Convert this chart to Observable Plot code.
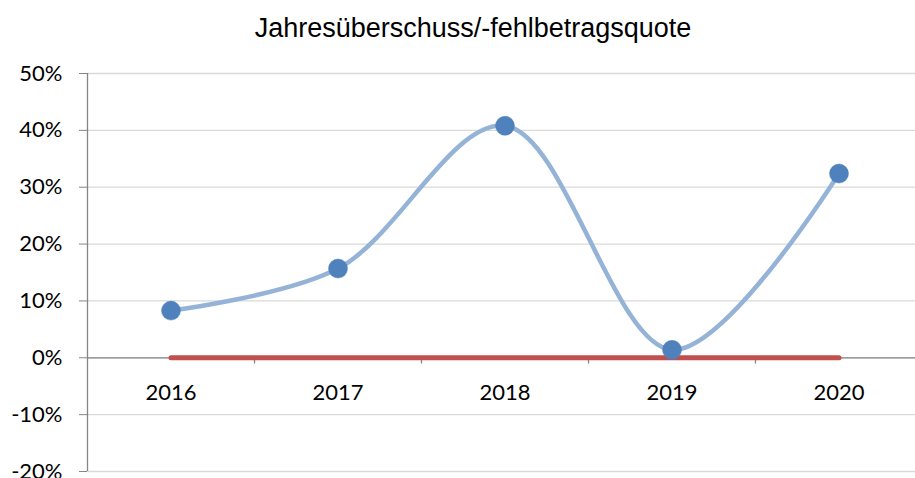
<!DOCTYPE html>
<html>
<head>
<meta charset="utf-8">
<script src="https://cdn.jsdelivr.net/npm/d3@7"></script>
<script src="https://cdn.jsdelivr.net/npm/@observablehq/plot@0.6"></script>
<style>
  html, body { margin: 0; padding: 0; background: #fff; }
  #chart svg { display: block; }
</style>
</head>
<body>
<div id="chart"></div>
<script>
const title = "Jahresüberschuss/-fehlbetragsquote";
const years = [2016, 2017, 2018, 2019, 2020];
const quote = [0.083, 0.157, 0.408, 0.014, 0.324];
const zeroLine = [0, 0, 0, 0, 0];
const yTicks = [-0.2, -0.1, 0, 0.1, 0.2, 0.3, 0.4, 0.5];
const boundaries = [2016.5, 2017.5, 2018.5, 2019.5];

const quoteData = years.map((y, i) => ({year: y, value: quote[i]}));
const zeroData = years.map((y, i) => ({year: y, value: zeroLine[i]}));

const titleFont = "'Liberation Sans', Arial, sans-serif";
const tickFont = "Lato, 'Liberation Sans', sans-serif";

const chart = Plot.plot({
  width: 915,
  height: 478,
  marginLeft: 87,
  marginRight: -7,
  marginTop: 73,
  marginBottom: 7,
  style: {fontFamily: tickFont, fontSize: "22px", color: "#000", background: "#fff", overflow: "visible"},
  x: {type: "linear", domain: [2015.5, 2020.5], axis: null},
  y: {domain: [-0.2, 0.5], axis: null},
  marks: [
    Plot.gridY(yTicks, {stroke: "#d9d9d9", strokeOpacity: 1, strokeWidth: 1.3}),
    Plot.axisY(yTicks, {
      label: null,
      tickFormat: d => Math.round(d * 100) + "%",
      tickSize: 8, tickPadding: 17, stroke: "#868686", fontSize: 22, fill: "#000",
      fontFamily: tickFont
    }),
    Plot.ruleX([2015.5], {stroke: "#868686", strokeWidth: 1.3}),
    Plot.ruleY([0], {stroke: "#868686", strokeWidth: 1.3}),
    Plot.ruleX(boundaries, {y1: 0, y2: -0.011, stroke: "#868686", strokeWidth: 1.3}),
    Plot.text(years, {x: d => d, y: 0, dy: 35, text: d => String(d), fontSize: 22, fill: "#000", fontFamily: tickFont}),
    Plot.line(zeroData, {x: "year", y: "value", stroke: "#c0504d", strokeWidth: 5, strokeLinecap: "round"}),
    Plot.line(quoteData, {x: "year", y: "value", stroke: "#95b3d7", strokeWidth: 4.5, curve: "catmull-rom"}),
    Plot.dot(quoteData, {x: "year", y: "value", r: 9.5, fill: "#4f81bd", stroke: "#4f81bd", strokeWidth: 0.5}),
    Plot.text([title], {frameAnchor: "top", lineAnchor: "middle", dy: -45, dx: -32, fontSize: 27, fill: "#000", fontFamily: titleFont})
  ]
});
document.getElementById("chart").appendChild(chart);
</script>
</body>
</html>
